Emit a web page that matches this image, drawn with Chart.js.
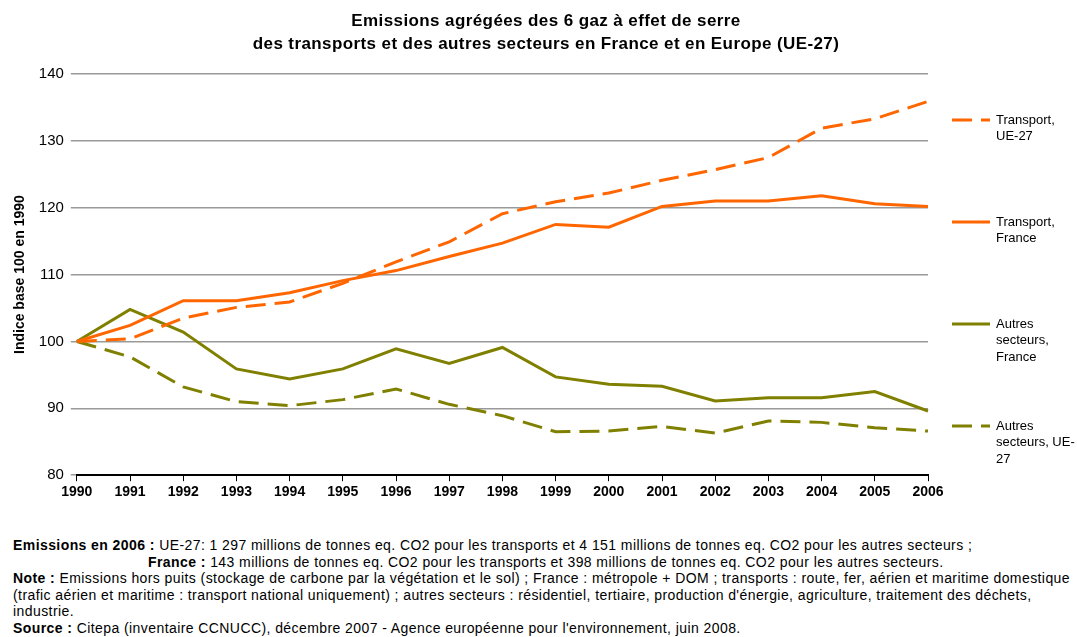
<!DOCTYPE html>
<html lang="fr">
<head>
<meta charset="utf-8">
<script src="https://cdn.jsdelivr.net/npm/chart.js@4"></script>
<style>
  body { margin: 0; background: #fff; font-family: "Liberation Sans", Arial, sans-serif; }
  #wrap { position: relative; width: 1077px; height: 637px; }
  #box { position: absolute; left: 0; top: 0; width: 1077px; height: 515px; }
  #titre { position: absolute; left: 0; top: 9px; width: 1092px; text-align: center; font-size: 17px; font-weight: bold; line-height: 23px; letter-spacing: 0.4px; color: #000; }
  #notes { position: absolute; left: 13px; top: 537px; font-size: 14px; line-height: 16.6px; letter-spacing: 0.42px; color: #000; white-space: nowrap; }
  #notes b { font-weight: bold; }
</style>
</head>
<body>
<div id="wrap">
  <div id="box"><canvas id="graf"></canvas></div>
  <div id="titre">Emissions agrégées des 6 gaz à effet de serre<br>des transports et des autres secteurs en France et en Europe (UE-27)</div>
  <div id="notes">
    <div><b>Emissions en 2006 :</b> UE-27: 1 297 millions de tonnes eq. CO2 pour les transports et 4 151 millions de tonnes eq. CO2 pour les autres secteurs ;</div>
    <div style="padding-left:135px"><b>France :</b> 143 millions de tonnes eq. CO2 pour les transports et 398 millions de tonnes eq. CO2 pour les autres secteurs.</div>
    <div><b>Note :</b> Emissions hors puits (stockage de carbone par la végétation et le sol) ; France : métropole + DOM ; transports : route, fer, aérien et maritime domestique</div>
    <div>(trafic aérien et maritime : transport national uniquement) ; autres secteurs : résidentiel, tertiaire, production d'énergie, agriculture, traitement des déchets,</div>
    <div>industrie.</div>
    <div><b>Source :</b> Citepa (inventaire CCNUCC), décembre 2007 -  Agence européenne pour l'environnement, juin 2008.</div>
  </div>
</div>
<script>
// années
const annees = ["1990", "1991", "1992", "1993", "1994", "1995", "1996", "1997", "1998",
  "1999", "2000", "2001", "2002", "2003", "2004", "2005", "2006"];

// indices base 100 en 1990
const transportUE = [100, 100.4, 103.5, 105.1, 105.9, 108.7, 111.9, 114.9, 119.1,
  120.9, 122.2, 124.1, 125.7, 127.5, 131.9, 133.3, 135.9];
const transportFR = [100, 102.4, 106.1, 106.1, 107.3, 109.1, 110.6, 112.7, 114.7,
  117.5, 117.1, 120.2, 121.0, 121.0, 121.8, 120.6, 120.2];
const autresFR = [100, 104.8, 101.4, 95.9, 94.4, 95.9, 98.9, 96.7, 99.1,
  94.7, 93.6, 93.3, 91.1, 91.6, 91.6, 92.5, 89.6];
const autresUE = [100, 97.7, 93.2, 91.0, 90.4, 91.3, 92.9, 90.6, 88.9,
  86.5, 86.6, 87.3, 86.3, 88.1, 87.9, 87.1, 86.6];

const orange = "#ff6600";
const olive = "#808000";
const tirets = [20, 9];
const police = "'Liberation Sans', Arial, sans-serif";

// légende dessinée à droite, à la main (une ligne de texte par élément)
const legendeDroite = {
  id: "legendeDroite",
  afterDraw(chart) {
    const ctx = chart.ctx;
    const area = chart.chartArea;
    const lignes = [["Transport,", "UE-27"], ["Transport,", "France"],
      ["Autres", "secteurs,", "France"], ["Autres", "secteurs, UE-", "27"]];
    ctx.save();
    ctx.font = "13px " + police;
    ctx.textBaseline = "middle";
    chart.data.datasets.forEach((ds, i) => {
      const y = area.top + 46 + i * 102;
      const x = area.right + 24;
      ctx.strokeStyle = ds.borderColor;
      ctx.lineWidth = 3;
      ctx.setLineDash(ds.borderDash || []);
      ctx.beginPath();
      ctx.moveTo(x, y);
      ctx.lineTo(x + 38, y);
      ctx.stroke();
      ctx.setLineDash([]);
      ctx.fillStyle = "#000";
      lignes[i].forEach((t, k) => ctx.fillText(t, x + 44, y + k * 16.5));
    });
    ctx.restore();
  },
};

const data = {
  labels: annees,
  datasets: [
    { label: "Transport, UE-27", data: transportUE, borderColor: orange, borderDash: tirets },
    { label: "Transport, France", data: transportFR, borderColor: orange },
    { label: "Autres secteurs, France", data: autresFR, borderColor: olive },
    { label: "Autres secteurs, UE-27", data: autresUE, borderColor: olive, borderDash: tirets },
  ],
};

data.datasets.forEach((ds) => {
  ds.borderWidth = 3;
  ds.pointRadius = 0;
  ds.tension = 0;
  ds.fill = false;
});

const config = {
  type: "line",
  data: data,
  options: {
    responsive: true,
    maintainAspectRatio: false,
    animation: false,
    layout: { padding: { left: 3, right: 149, top: 74, bottom: 11 } },
    plugins: {
      legend: { display: false },
      tooltip: { enabled: false },
    },
    scales: {
      x: {
        offset: false,
        grid: { drawOnChartArea: false, drawTicks: true, tickLength: 6, color: "#000", lineWidth: 1 },
        border: { display: true, color: "#000", width: 2 },
        ticks: {
          color: "#000",
          maxRotation: 0,
          autoSkip: false,
          font: { family: police, size: 14, weight: "bold" },
        },
      },
      y: {
        min: 80,
        max: 140,
        ticks: {
          stepSize: 10,
          color: "#000",
          padding: 7,
          font: { family: police, size: 15 },
        },
        grid: { color: "#999", lineWidth: 1.5, drawTicks: true, tickLength: 6 },
        border: { display: false },
        title: {
          display: true,
          text: "Indice base 100 en 1990",
          color: "#000",
          font: { family: police, size: 14, weight: "bold" },
          padding: { top: 9, bottom: 3 },
        },
      },
    },
  },
  plugins: [legendeDroite],
};

const canvas = document.getElementById("graf");
const graphique = new Chart(canvas, config);
</script>
</body>
</html>
